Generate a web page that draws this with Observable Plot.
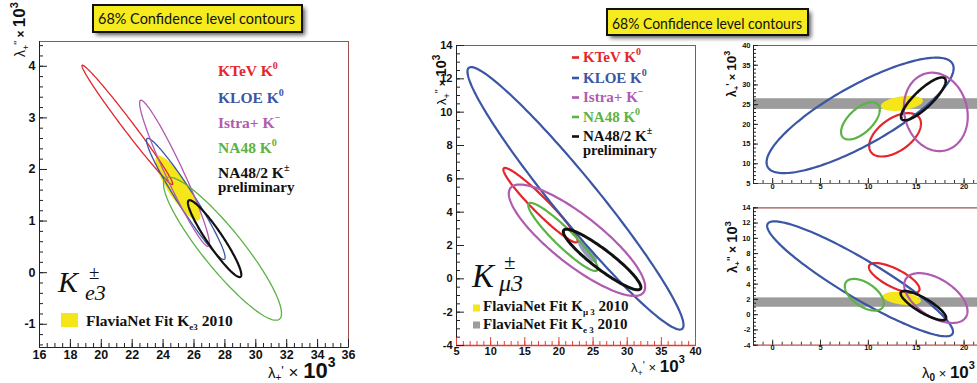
<!DOCTYPE html>
<html><head><meta charset="utf-8">
<script src="https://cdn.jsdelivr.net/npm/d3@7"></script>
<script src="https://cdn.jsdelivr.net/npm/@observablehq/plot@0.6"></script>
<style>
body{margin:0;background:#fff;}
#root{position:relative;width:977px;height:383px;overflow:hidden;background:#fff;}
.pn{position:absolute;}
.pn svg{background:transparent !important;max-width:none !important;display:block;}
#ov{position:absolute;left:0;top:0;pointer-events:none;}
</style></head><body><div id="root"></div>
<script>
// ---------------- DATA ----------------
const experiments = ["KTeV K", "KLOE K", "Istra+ K", "NA48 K", "NA48/2 K"];
const experimentCharge = ["0", "0", "\u2212", "0", "\u00b1"];
const titleText = "68% Confidence level contours";

// contour = [x at one tip of long axis, y there, x at other tip, y there, width / length ratio]
// Ke3 panel: lambda+' (x) vs lambda+'' (y)
const ke3Contours = [
  [18.76, 4.02, 24.61, 1.71, 0.07],
  [22.97, 2.60, 27.97, 0.26, 0.12],
  [22.54, 3.34, 26.94, 0.51, 0.11],
  [24.16, 1.83, 31.53, -0.90, 0.22],
  [25.66, 1.40, 29.01, -0.08, 0.17]
];
const ke3Fit = [23.60, 2.26, 26.32, 1.02, 0.26];
// Kmu3 panel: lambda+' (x) vs lambda+'' (y)
const km3Contours = [
  [11.93, 6.63, 22.67, 2.21, 0.15],
  [6.80, 12.66, 38.05, -3.00, 0.13],
  [12.91, 5.45, 32.38, -0.82, 0.29],
  [15.59, 4.52, 25.60, 0.51, 0.19],
  [20.71, 2.92, 31.94, -0.60, 0.20]
];
const km3Fit = [22.86, 2.31, 25.50, 0.99, 0.30];
// Kmu3 lambda0 (x) vs lambda+' (y)
const l0lpContours = [
  [10.27, 12.99, 15.31, 21.70, 0.55],
  [-0.52, 9.19, 18.79, 35.37, 0.28],
  [16.00, 32.90, 18.09, 13.42, 0.79],
  [7.34, 16.71, 11.00, 25.06, 0.50],
  [13.50, 21.27, 17.99, 31.65, 0.30]
];
const l0lpFit = [11.31, 24.56, 15.69, 26.08, 0.33];
const l0lpKe3Band = [23.8, 26.5];
// Kmu3 lambda0 (x) vs lambda+'' (y)
const l0lppContours = [
  [10.09, 6.44, 15.31, 3.16, 0.33],
  [-0.52, 11.90, 18.79, -2.51, 0.18],
  [13.92, 4.69, 20.18, -0.34, 0.53],
  [7.66, 4.25, 11.49, 0.97, 0.53],
  [13.40, 2.94, 18.09, -0.55, 0.27]
];
const l0lppFit = [11.52, 2.45, 15.48, 1.80, 0.32];
const l0lppKe3Band = [0.97, 2.2];

// tick labels
const ke3XTicks = [16, 18, 20, 22, 24, 26, 28, 30, 32, 34, 36];
const ke3YTicks = [-1, 0, 1, 2, 3, 4];
const km3XTicks = [5, 10, 15, 20, 25, 30, 35, 40];
const km3YTicks = [-4, -2, 0, 2, 4, 6, 8, 10, 12, 14];
const l0XTicks = [0, 5, 10, 15, 20];
const l0lpYTicks = [5, 10, 15, 20, 25, 30, 35, 40];
const l0lppYTicks = [-4, -2, 0, 2, 4, 6, 8, 10, 12, 14];

// ---------------- STYLE ----------------
const expColors = ["#e3262b", "#3a56a5", "#b05ab0", "#5cb244", "#111111"];
const maroon = "#a0504c";
const yellow = "#f5e61a";
const gray = "#9c9c9c";
const serif = "'Liberation Serif', 'Times New Roman', serif";
const sans = "'Liberation Sans', Arial, sans-serif";

function ellipse(p, a, n = 180) {
  const [x1, y1, x2, y2, r] = p;
  const cx = (x1 + x2) / 2, cy = (y1 + y2) / 2;
  const ux = (x2 - x1) / 2, uy = (y2 - y1) / 2 * a;
  const vx = -uy * r, vy = ux * r;
  return d3.range(n + 1).map(i => {
    const t = 2 * Math.PI * i / n;
    return {x: cx + Math.cos(t) * ux + Math.sin(t) * vx, y: cy + (Math.cos(t) * uy + Math.sin(t) * vy) / a};
  });
}
const range = (a, b, s) => d3.range(Math.round((b - a) / s) + 1).map(i => +(a + i * s).toFixed(4));

const root = document.getElementById("root");

function panel(c) {
  const pw = c.width - c.ml - c.mr, ph = c.height - c.mt - c.mb;
  const a = (ph / (c.yd[1] - c.yd[0])) / (pw / (c.xd[1] - c.xd[0]));
  const marks = [];
  if (c.band) marks.push(Plot.rect([c.band], {y1: d => d[0], y2: d => d[1], fill: gray, clip: true}));
  for (const f of c.fills) marks.push(Plot.line(ellipse(f.p, a), {x: "x", y: "y", fill: f.color, fillOpacity: f.op || 1, stroke: "none", clip: true}));
  c.contours.forEach((p, i) => marks.push(Plot.line(ellipse(p, a), {x: "x", y: "y", stroke: expColors[i], strokeWidth: i === 4 ? c.lwBlack : c.lw, clip: true})));
  if (c.full) marks.push(Plot.frame({stroke: maroon, strokeWidth: 1}));
  else marks.push(Plot.ruleY([c.yd[1]], {stroke: maroon, strokeWidth: 1.2}));
  marks.push(Plot.ruleX([c.xd[0]], {stroke: "#222", strokeWidth: 1}));
  marks.push(Plot.ruleY([c.yd[0]], {stroke: c.bottomColor, strokeWidth: c.bottomW || 1}));
  marks.push(Plot.tickX(c.xMin, {x: d => d, insetTop: ph - c.tMin, stroke: c.xTickColor, strokeWidth: 1}));
  marks.push(Plot.tickX(c.xTicks, {x: d => d, insetTop: ph - c.tMaj, stroke: c.xTickColor, strokeWidth: 1}));
  marks.push(Plot.tickY(c.yMin, {y: d => d, insetRight: pw - c.tMin, stroke: "#222", strokeWidth: 1}));
  marks.push(Plot.tickY(c.yTicks, {y: d => d, insetRight: pw - c.tMaj, stroke: "#222", strokeWidth: 1}));
  marks.push(Plot.text(c.xTicks, {x: d => d, frameAnchor: "bottom", dy: c.xdy, text: d => String(d), fontSize: c.fs, fontWeight: "bold", fontFamily: sans, fill: "#111"}));
  marks.push(Plot.text(c.yTicks, {y: d => d, frameAnchor: "left", dx: c.ydx, textAnchor: "end", text: d => String(d), fontSize: c.fs, fontWeight: "bold", fontFamily: sans, fill: "#111"}));
  const svg = Plot.plot({
    width: c.width, height: c.height,
    marginLeft: c.ml, marginRight: c.mr, marginTop: c.mt, marginBottom: c.mb,
    x: {domain: c.xd, axis: null}, y: {domain: c.yd, axis: null},
    style: {background: "transparent", overflow: "visible"},
    marks
  });
  const div = document.createElement("div");
  div.className = "pn";
  div.style.left = c.left + "px"; div.style.top = c.top + "px";
  div.appendChild(svg);
  root.appendChild(div);
}

panel({left: 0, top: 0, width: 360, height: 383, ml: 39, mr: 12, mt: 41, mb: 36,
  xd: [16, 36], yd: [-1.45, 4.48], contours: ke3Contours, fills: [{p: ke3Fit, color: yellow}],
  lw: 1.3, lwBlack: 2.2, full: true, bottomColor: "#222", xTickColor: "#222",
  xTicks: ke3XTicks, xMin: range(16, 36, 0.5), yTicks: ke3YTicks, yMin: range(-1.4, 4.4, 0.2),
  tMaj: 8, tMin: 4, fs: 12.5, xdy: 11, ydx: -4});

panel({left: 420, top: 0, width: 290, height: 383, ml: 36, mr: 15, mt: 45, mb: 38,
  xd: [5, 40], yd: [-4, 14], contours: km3Contours, fills: [{p: km3Fit, color: "#8791b8", op: 0.9}],
  lw: 2.2, lwBlack: 3, full: true, bottomColor: "#e0403a", bottomW: 1.4, xTickColor: "#e0403a",
  xTicks: km3XTicks, xMin: range(5, 40, 1), yTicks: km3YTicks, yMin: range(-4, 14, 0.5),
  tMaj: 8, tMin: 4, fs: 11, xdy: 9, ydx: -4});

panel({left: 700, top: 30, width: 277, height: 165, ml: 53, mr: 0, mt: 15, mb: 12,
  xd: [-2, 21.4], yd: [5, 40], contours: l0lpContours, fills: [{p: l0lpFit, color: yellow}], band: l0lpKe3Band,
  lw: 2.2, lwBlack: 2.6, full: false, bottomColor: "#c0504a", bottomW: 1.2, xTickColor: "#333",
  xTicks: l0XTicks, xMin: range(-2, 21, 1), yTicks: l0lpYTicks, yMin: range(5, 40, 1),
  tMaj: 5, tMin: 3, fs: 7.5, xdy: 5, ydx: -3});

panel({left: 700, top: 195, width: 277, height: 170, ml: 53, mr: 0, mt: 12.3, mb: 20.3,
  xd: [-2, 21.4], yd: [-4, 14], contours: l0lppContours, fills: [{p: l0lppFit, color: yellow}], band: l0lppKe3Band,
  lw: 2.2, lwBlack: 2.6, full: false, bottomColor: "#c0504a", bottomW: 1.2, xTickColor: "#333",
  xTicks: l0XTicks, xMin: range(-2, 21, 1), yTicks: l0lppYTicks, yMin: range(-4, 14, 0.5),
  tMaj: 5, tMin: 3, fs: 7.5, xdy: 5, ydx: -3});

// ---------------- ANNOTATIONS ----------------
const ov = d3.select(root).append("svg").attr("id", "ov").attr("width", 977).attr("height", 383);
const defs = ov.append("defs");
defs.append("filter").attr("id", "sh").attr("x", "-10%").attr("y", "-40%").attr("width", "130%").attr("height", "200%")
  .append("feGaussianBlur").attr("stdDeviation", 2);

function rich(x, y, parts, o) {
  const t = ov.append("text").attr("x", x).attr("y", y)
    .attr("font-size", o.size).attr("font-family", o.family || serif)
    .attr("font-weight", o.weight || "normal").attr("font-style", o.style || "normal")
    .attr("fill", o.fill || "#111").attr("text-anchor", o.anchor || "start");
  if (o.rotate) t.attr("transform", `rotate(${o.rotate},${x},${y})`);
  let shift = 0;
  for (const p of parts) {
    const [txt, dy = 0, size, weight, style] = p;
    const ts = t.append("tspan").text(txt).attr("dy", dy - shift);
    if (size) ts.attr("font-size", size);
    if (weight) ts.attr("font-weight", weight);
    if (style) ts.attr("font-style", style);
    shift = dy;
  }
  return t;
}

function titleBox(x, y, w, h, tx, ty, tl, fs) {
  ov.append("rect").attr("x", x + 3).attr("y", y + 3).attr("width", w).attr("height", h)
    .attr("fill", "#222").attr("opacity", 0.75).attr("filter", "url(#sh)");
  ov.append("rect").attr("x", x).attr("y", y).attr("width", w).attr("height", h)
    .attr("fill", "#f5eb1e").attr("stroke", "#111").attr("stroke-width", 2);
  ov.append("text").attr("x", tx).attr("y", ty).text(titleText)
    .attr("font-family", "Lato, 'Open Sans', sans-serif").attr("font-size", fs).attr("fill", "#111")
    .attr("textLength", tl).attr("lengthAdjust", "spacingAndGlyphs");
}
titleBox(93, 5, 209, 27, 98, 24, 197, 15);
titleBox(607, 9, 201, 26, 612, 28.5, 190, 14.5);

// Ke3 panel legend
const ke3Base = [76, 103, 128, 153, 178];
experiments.forEach((e, i) => rich(218, ke3Base[i], [[e], [experimentCharge[i], -7, 10]], {size: 15.5, weight: "bold", fill: expColors[i]}));
rich(218, 192, [["preliminary"]], {size: 15, weight: "bold", fill: "#111"});
// Kmu3 panel legend
const km3Base = [62, 82.5, 102, 121.5, 141];
experiments.forEach((e, i) => {
  ov.append("line").attr("x1", 572).attr("x2", 579).attr("y1", km3Base[i] - 4.5).attr("y2", km3Base[i] - 4.5)
    .attr("stroke", expColors[i]).attr("stroke-width", 2.6);
  rich(583, km3Base[i], [[e], [experimentCharge[i], -7, 10]], {size: 15, weight: "bold", fill: expColors[i]});
});
rich(583, 155, [["preliminary"]], {size: 14.5, weight: "bold", fill: "#111"});

// big channel labels
rich(58, 292, [["K"]], {size: 30, style: "italic"});
rich(89, 279, [["\u00b1"]], {size: 19});
rich(85, 300, [["e3"]], {size: 22, style: "italic"});
rich(472, 287, [["K"]], {size: 33, style: "italic"});
rich(504, 269, [["\u00b1"]], {size: 21});
rich(499, 291, [["\u03bc3"]], {size: 24, style: "italic"});

// FlaviaNet legends
ov.append("rect").attr("x", 61).attr("y", 313).attr("width", 17).attr("height", 14).attr("fill", yellow);
rich(86, 326, [["FlaviaNet Fit K"], ["e3", 4, 9], [" 2010", 0]], {size: 15.5, weight: "bold"});
ov.append("rect").attr("x", 473).attr("y", 304.5).attr("width", 7).attr("height", 7).attr("fill", yellow);
rich(483, 311, [["FlaviaNet Fit K"], ["\u03bc 3", 4, 9], [" 2010", 0]], {size: 15, weight: "bold"});
ov.append("rect").attr("x", 473).attr("y", 321.5).attr("width", 7).attr("height", 7).attr("fill", gray);
rich(483, 328.5, [["FlaviaNet Fit K"], ["e 3", 4, 9], [" 2010", 0]], {size: 15, weight: "bold"});

// axis titles
rich(25, 57, [["\u03bb", 0, 14], ["+", 4, 9], ["''", -3, 10], [" \u00d7 ", 0, 12, "bold"], ["10", 0, 17, "bold"], ["3", -7, 11, "bold"]], {size: 14, family: sans, rotate: -90});
rich(268, 378, [["\u03bb", 0, 15], ["+", 3, 10], ["'", -3, 13], [" \u00d7 ", 0, 17], ["10", 0, 22, "bold"], ["3", -11, 14, "bold"]], {size: 15, family: sans});
rich(446, 105, [["\u03bb", 0, 13], ["+", 4, 9], ["''", -3, 10], [" \u00d7 ", 0, 11, "bold"], ["10", 0, 15, "bold"], ["3", -6, 10, "bold"]], {size: 13, family: sans, rotate: -90});
rich(631, 372, [["\u03bb", 0, 13], ["+", 4, 9], ["'", -3, 11], [" \u00d7 ", 0, 13], ["10", 0, 17, "bold"], ["3", -9, 11, "bold"]], {size: 13, family: sans});
rich(736, 97, [["\u03bb", 0, 12, "bold"], ["+", 3, 8, "bold"], ["'", -2, 10, "bold"], [" \u00d7 ", 0, 11, "bold"], ["10", 0, 13.5, "bold"], ["3", -6, 9, "bold"]], {size: 12, family: sans, rotate: -90});
rich(737, 273, [["\u03bb", 0, 13, "bold"], ["+", 3, 8, "bold"], ["''", -2, 10, "bold"], [" \u00d7 ", 0, 12, "bold"], ["10", 0, 14.5, "bold"], ["3", -6, 9.5, "bold"]], {size: 13, family: sans, rotate: -90});
rich(922, 378, [["\u03bb", 0, 15], ["0", 3, 10, "bold"], [" \u00d7 ", 0, 13], ["10", 0, 17, "bold"], ["3", -9, 11, "bold"]], {size: 15, family: sans});
</script></body></html>
